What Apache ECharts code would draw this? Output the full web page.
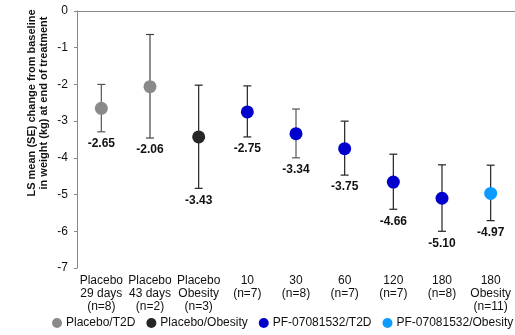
<!DOCTYPE html>
<html><head><meta charset="utf-8">
<script src="https://cdn.jsdelivr.net/npm/echarts@6/dist/echarts.min.js"></script>
<style>html,body{margin:0;padding:0;background:#fff}#c{width:515px;height:335px}</style>
</head><body><div id="c"></div>
<script>
const categories = ['Placebo\n29 days\n(n=8)','Placebo\n43 days\n(n=2)','Placebo\nObesity\n(n=3)','10\n(n=7)','30\n(n=8)','60\n(n=7)','120\n(n=7)','180\n(n=8)','180\nObesity\n(n=11)'];
const means = [-2.65,-2.06,-3.43,-2.75,-3.34,-3.75,-4.66,-5.10,-4.97];
const lower = [-3.29,-3.46,-4.83,-3.43,-4.00,-4.47,-5.40,-6.00,-5.71];
const upper = [-2.00,-0.64,-2.02,-2.04,-2.67,-3.00,-3.90,-4.19,-4.20];
const groups = [0,0,1,2,2,2,2,2,3];
const groupNames = ['Placebo/T2D','Placebo/Obesity','PF-07081532/T2D','PF-07081532/Obesity'];
const groupColors = ['#8a8a8a','#262626','#0000cc','#0c9bff'];
const barColors = ['#555','#444','#222','#222','#555','#222','#222','#222','#222'];
const yTicks = [0,-1,-2,-3,-4,-5,-6,-7];
const yTitle = ['LS mean (SE) change from baseline','in weight (kg) at end of treatment'];

const chart = echarts.init(document.getElementById('c'));
const font = 'Liberation Sans, Arial, sans-serif';
const errData = means.map((m,i)=>[i,lower[i],upper[i],m]);
const series = [{
  type:'custom', silent:true, z:1,
  data: errData,
  encode:{x:0,y:[1,2]},
  renderItem:function(params,api){
    const i = api.value(0);
    const lo = api.coord([i, api.value(1)]);
    const hi = api.coord([i, api.value(2)]);
    const c = barColors[i];
    const cap = 4;
    return {type:'group', children:[
      {type:'line', shape:{x1:lo[0],y1:lo[1],x2:hi[0],y2:hi[1]}, style:{stroke:c,lineWidth:1.2}},
      {type:'line', shape:{x1:lo[0]-cap,y1:lo[1],x2:lo[0]+cap,y2:lo[1]}, style:{stroke:c,lineWidth:1.2}},
      {type:'line', shape:{x1:hi[0]-cap,y1:hi[1],x2:hi[0]+cap,y2:hi[1]}, style:{stroke:c,lineWidth:1.2}},
      {type:'text', style:{x:lo[0], y:lo[1]+12, text:api.value(3).toFixed(2), align:'center', verticalAlign:'middle', font:'bold 12px '+font, fill:'#111'}}
    ]};
  }
}];
groupNames.forEach((name,g)=>{
  series.push({
    type:'scatter', name:name, symbol:'circle', symbolSize:13, z:5,
    itemStyle:{color:groupColors[g], opacity:1},
    data: means.map((m,i)=> groups[i]===g ? [i,m] : null).filter(d=>d!==null)
  });
});

chart.setOption({
  animation:false,
  grid:{left:77, top:11, height:257, width:446, containLabel:false},
  legend:{
    data: groupNames.map(n=>({name:n, icon:'circle', itemStyle:{opacity:1}})),
    top:317, left:52, width:470, padding:0, itemWidth:10, itemHeight:10, itemGap:11,
    textStyle:{fontFamily:font, fontSize:12, color:'#111', padding:[0,0,0,-1]}
  },
  graphic:[{
    type:'text', x:38, y:103, rotation:Math.PI/2,
    style:{text:yTitle.join('\n'), font:'bold 11px '+font, fill:'#111', align:'center', verticalAlign:'middle', lineHeight:12}
  }],
  xAxis:{
    type:'category', data:categories, boundaryGap:true,
    axisLine:{lineStyle:{color:'#888'}},
    axisTick:{alignWithLabel:true, length:4, lineStyle:{color:'#888'}},
    axisLabel:{fontFamily:font, fontSize:12, color:'#111', lineHeight:13, interval:0, margin:6}
  },
  yAxis:{
    type:'value', min:-7, max:0, interval:1,
    axisLine:{show:true, lineStyle:{color:'#888'}},
    axisTick:{show:true, length:3, lineStyle:{color:'#888'}},
    splitLine:{show:false},
    axisLabel:{fontFamily:font, fontSize:12, color:'#111', margin:9}
  },
  series: series
});
</script></body></html>
